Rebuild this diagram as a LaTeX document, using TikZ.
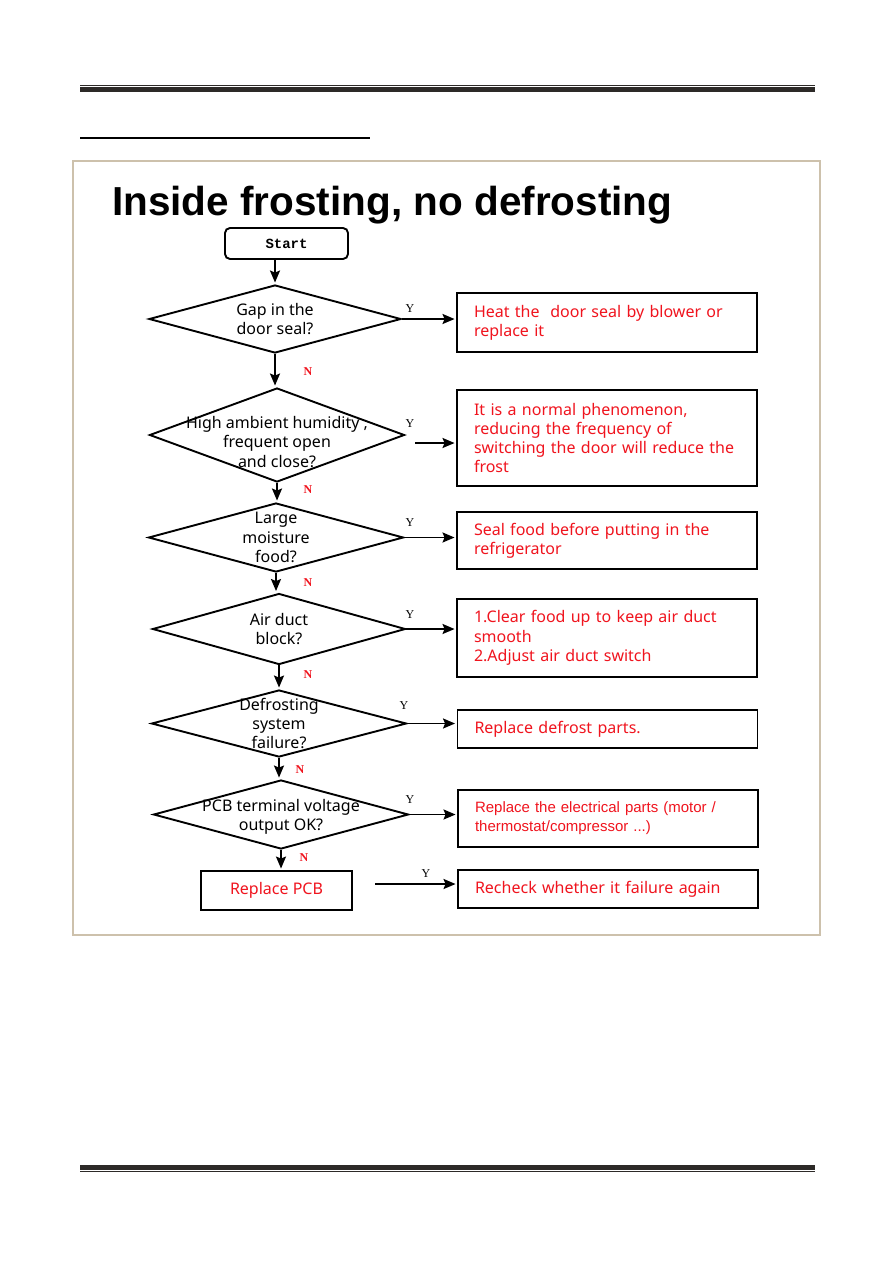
\documentclass[tikz,border=0pt]{standalone}
\usepackage{fontspec}
\setmainfont{Noto Sans}
\newfontfamily\arialfont{Liberation Sans}
\newfontfamily\startmono{Liberation Mono}
\newfontfamily\ynserif{Liberation Serif}
\usetikzlibrary{shapes.geometric,arrows.meta}
\definecolor{alarmred}{RGB}{240,20,30}
\definecolor{framebeige}{RGB}{205,193,172}
\definecolor{ruledark}{RGB}{45,42,40}

\begin{document}
\begin{tikzpicture}[x=1pt,y=-1pt,
  arr/.style={-{Stealth[length=12pt,width=10pt,inset=2pt]}, line width=1.9pt, shorten >=1.5pt},
  question/.style={diamond, draw, line width=1.9pt, inner sep=0pt},
  qtext/.style={align=center, inner sep=0pt, font=\fontsize{16}{19.2}\selectfont},
  fixbox/.style={draw, line width=1.9pt, minimum width=300, text width=266, inner xsep=17, align=left, text=alarmred, font=\fontsize{16}{19.3}\selectfont},
  ylabel/.style={font=\ynserif\fontsize{12}{12}\selectfont, inner sep=0pt},
  nlabel/.style={font=\ynserif\bfseries\fontsize{12}{12}\selectfont, text=alarmred, inner sep=0pt}]

\fill[white] (0,0) rectangle (893,1263);
\useasboundingbox (0,0) rectangle (893,1263);

% page rules
\draw[ruledark, line width=1pt] (80,85) -- (815,85);
\fill[ruledark] (80,87) rectangle (815,92);
\draw[line width=2pt] (80,137.5) -- (370,137.5);
\fill[ruledark] (80,1165) rectangle (815,1169.5);
\draw[ruledark, line width=1pt] (80,1171.5) -- (815,1171.5);
\draw[framebeige, line width=2pt] (73,161) rectangle (820,935);

\node[anchor=base west, inner sep=0pt, font=\arialfont\bfseries\fontsize{40.5}{40.5}\selectfont] (title) at (112,215) {Inside frosting, no defrosting};

\node[draw, rounded corners=5pt, line width=1.9pt, minimum width=123, minimum height=31, font=\startmono\bfseries\fontsize{14}{14}\selectfont] (start) at (286.5,243.5) {Start};

% questions
\node[question, minimum width=252, minimum height=68, label={[qtext]center:Gap in the\\door seal?}] (q1) at (275,319) {};
\node[question, minimum width=255, minimum height=94, label={[qtext, yshift=-7]center:High ambient humidity ,\\frequent open\\ and close?}] (q2) at (277,435) {};
\node[question, minimum width=255, minimum height=69, label={[qtext]center:Large\\moisture\\food?}] (q3) at (276,537.5) {};
\node[question, minimum width=253, minimum height=71, label={[qtext]center:Air duct\\block?}] (q4) at (279,629) {};
\node[question, minimum width=255, minimum height=67, label={[qtext]center:Defrosting\\system\\failure?}] (q5) at (279,723.5) {};
\node[question, minimum width=255, minimum height=69, label={[qtext, yshift=-2]center:PCB terminal voltage\\output OK?}] (q6) at (281,814.5) {};
\node[draw, line width=1.9pt, minimum width=151, minimum height=39, text=alarmred, font=\fontsize{16}{19.3}\selectfont] (pcb) at (276.5,890.5) {Replace PCB};

% answers
\node[fixbox, minimum height=59] (a1) at (607,322.5) {Heat the \ door seal by blower or\\replace it};
\node[fixbox, minimum height=96] (a2) at (607,438) {It is a normal phenomenon,\\reducing the frequency of\\switching the door will reduce the\\frost};
\node[fixbox, minimum height=57] (a3) at (607,540.5) {Seal food before putting in the\\refrigerator};
\node[fixbox, minimum height=78] (a4) at (607,638) {1.Clear food up to keep air duct\\smooth\\2.Adjust air duct switch};
\node[fixbox, minimum height=38] (a5) at (607.5,729) {Replace defrost parts.};
\node[fixbox, minimum height=57, font=\arialfont\fontsize{15}{19}\selectfont] (a6) at (608,818.5) {Replace the electrical parts (motor /\\thermostat/compressor ...)};
\node[fixbox, minimum height=38] (a8) at (608,889) {Recheck whether it failure again};

% N path
\draw[arr] (start.south -| q1.north) -- (q1.north);
\draw[arr] (q1.south) -- (q1.south |- q2.north);
\draw[arr] (q2.south) -- (q2.south |- q3.north);
\draw[arr] (q3.south) -- (q3.south |- q4.north);
\draw[arr] (q4.south) -- (q4.south |- q5.north);
\draw[arr] (q5.south) -- (q5.south |- q6.north);
\draw[arr] (q6.south) -- (q6.south |- pcb.north);

% Y path
\coordinate (q2y) at (415,443);
\coordinate (pcby) at (375,884);
\draw[arr] (q1.east) -- (q1.east -| a1.west);
\draw[arr] (q2y) -- (q2y -| a2.west);
\draw[arr] (q3.east) -- (q3.east -| a3.west);
\draw[arr] (q4.east) -- (q4.east -| a4.west);
\draw[arr] (q5.east) -- (q5.east -| a5.west);
\draw[arr] (q6.east) -- (q6.east -| a6.west);
\draw[arr] (pcby) -- (pcby -| a8.west);

\node[ylabel] (y1) at (410,309) {Y};
\node[ylabel] (y2) at (410,424) {Y};
\node[ylabel] (y3) at (410,523) {Y};
\node[ylabel] (y4) at (410,615) {Y};
\node[ylabel] (y5) at (404,706) {Y};
\node[ylabel] (y6) at (410,800) {Y};
\node[ylabel] (y7) at (426,874) {Y};

\node[nlabel] (n1) at (308,372) {N};
\node[nlabel] (n2) at (308,490) {N};
\node[nlabel] (n3) at (308,583) {N};
\node[nlabel] (n4) at (308,675) {N};
\node[nlabel] (n5) at (300,770) {N};
\node[nlabel] (n6) at (304,858) {N};
\end{tikzpicture}
\end{document}
